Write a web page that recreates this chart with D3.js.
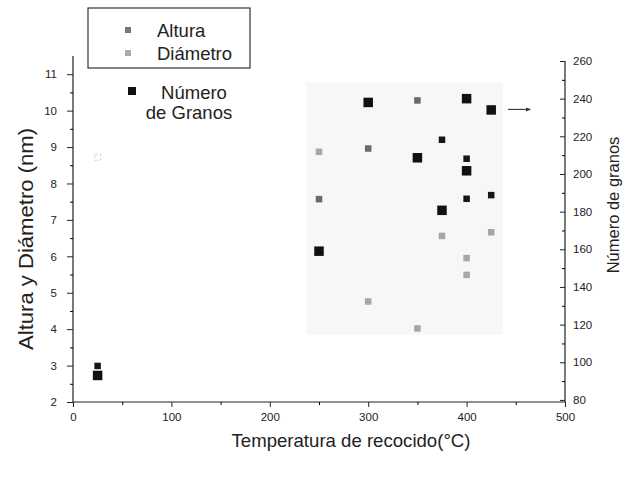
<!DOCTYPE html>
<html>
<head>
<meta charset="utf-8">
<script src="https://cdn.jsdelivr.net/npm/d3@7"></script>
<style>
  html, body { margin: 0; padding: 0; background: #fff; }
  svg { display: block; font-family: "Liberation Sans", Arial, sans-serif; }
</style>
</head>
<body>
<svg id="chart" width="624" height="477"></svg>
<script>
// Temperatura de recocido (°C) y valores medidos por serie
const tempAlturaA = [250, 300, 350];
const alturaA = [7.57, 8.96, 10.28];
const tempAlturaB = [25, 375, 400, 400, 425];
const alturaB = [2.99, 9.2, 8.68, 7.58, 7.68];
const tempDiametro = [250, 300, 350, 375, 400, 400, 425];
const diametro = [8.87, 4.76, 4.02, 6.56, 5.95, 5.49, 6.66];
const tempDiametroTenue = [25];
const diametroTenue = [8.72];
const tempGranos = [25, 250, 300, 350, 375, 400, 400, 425];
const granos = [93, 159, 238, 208.6, 180.7, 240, 201.7, 234];

// Ticks
const xTicks = [0, 100, 200, 300, 400, 500];
const yLeftTicks = [2, 3, 4, 5, 6, 7, 8, 9, 10, 11];
const yRightTicks = [80, 100, 120, 140, 160, 180, 200, 220, 240, 260];

const svg = d3.select("#chart");

const x = d3.scaleLinear().domain([0, 500]).range([73, 565]);
const yL = d3.scaleLinear().domain([2, 11.5]).range([402, 56]);
const yR = d3.scaleLinear().domain([78.9, 260]).range([402, 61]);

// light backdrop behind the high-temperature group
svg.append("rect")
  .attr("x", x(237)).attr("y", yL(10.78))
  .attr("width", x(437) - x(237)).attr("height", yL(3.85) - yL(10.78))
  .attr("fill", "#f7f7f7");

// bottom axis
const gx = svg.append("g").attr("transform", "translate(0,402)")
  .call(d3.axisBottom(x).tickValues(xTicks).tickSize(5).tickPadding(6).tickFormat(d3.format("d")));
svg.append("g").attr("transform", "translate(0,402)")
  .call(d3.axisBottom(x).tickValues(d3.range(50, 500, 100)).tickSize(3).tickFormat(""))
  .call(g => g.select(".domain").remove());

// left axis
const gl = svg.append("g").attr("transform", "translate(73,0)")
  .call(d3.axisLeft(yL).tickValues(yLeftTicks).tickSize(6).tickPadding(10).tickFormat(d3.format("d")));
svg.append("g").attr("transform", "translate(73,0)")
  .call(d3.axisLeft(yL).tickValues(d3.range(2.5, 11.5, 1)).tickSize(3).tickFormat(""))
  .call(g => g.select(".domain").remove());

// right axis, ticks pointing inward
const gr = svg.append("g").attr("transform", "translate(565,0)")
  .call(d3.axisRight(yR).tickValues(yRightTicks).tickSizeInner(-5).tickSizeOuter(0).tickPadding(8).tickFormat(d3.format("d")));
svg.append("g").attr("transform", "translate(565,0)")
  .call(d3.axisRight(yR).tickValues(d3.range(90, 260, 20)).tickSizeInner(-3).tickSizeOuter(0).tickFormat(""))
  .call(g => g.select(".domain").remove());

[gx, gl, gr].forEach(g => {
  g.select(".domain").attr("stroke", "#222").attr("stroke-width", 1.2);
  g.selectAll(".tick line").attr("stroke", "#222");
  g.selectAll(".tick text").attr("font-size", 11.5).attr("fill", "#222")
    .attr("font-family", "'Liberation Sans', Arial, sans-serif");
});
gx.select(".domain").attr("d", `M${x(0)},0H${x(500)}`);
gl.select(".domain").attr("d", `M0,${yL(11.5)}V${yL(2)}`);
gr.select(".domain").attr("d", `M0,${yR(260)}V${yR(78.9)}`);

// axis titles
svg.append("text")
  .attr("x", 351).attr("y", 447)
  .attr("text-anchor", "middle").attr("font-size", 18.6).attr("fill", "#222")
  .text("Temperatura de recocido(°C)");

svg.append("text")
  .attr("transform", "translate(33,239) rotate(-90)")
  .attr("text-anchor", "middle").attr("font-size", 19.5).attr("fill", "#222")
  .attr("textLength", 222).attr("lengthAdjust", "spacingAndGlyphs")
  .text("Altura y Diámetro (nm)");

svg.append("text")
  .attr("transform", "translate(619,205) rotate(-90)")
  .attr("text-anchor", "middle").attr("font-size", 16.5).attr("fill", "#222")
  .text("Número de granos");

// markers
function squares(xs, ys, yScale, size, fill) {
  svg.append("g").selectAll("rect")
    .data(xs.map((t, i) => [t, ys[i]]))
    .join("rect")
    .attr("x", d => x(d[0]) - size / 2)
    .attr("y", d => yScale(d[1]) - size / 2)
    .attr("width", size).attr("height", size)
    .attr("fill", fill);
}

svg.append("g").selectAll("rect")
  .data(tempDiametroTenue.map((t, i) => [t, diametroTenue[i]]))
  .join("rect")
  .attr("x", d => x(d[0]) - 3).attr("y", d => yL(d[1]) - 3)
  .attr("width", 6).attr("height", 6)
  .attr("fill", "none").attr("stroke", "#c8c8c8").attr("stroke-width", 0.8)
  .attr("stroke-dasharray", "3,2");

squares(tempDiametro, diametro, yL, 6.5, "#a6a6a6");
squares(tempAlturaA, alturaA, yL, 6.5, "#6a6a6a");
squares(tempAlturaB, alturaB, yL, 6.5, "#161616");
squares(tempGranos, granos, yR, 9.5, "#111");

// arrow towards the right axis
svg.append("line")
  .attr("x1", x(442)).attr("x2", x(464))
  .attr("y1", yR(234.3)).attr("y2", yR(234.3))
  .attr("stroke", "#333").attr("stroke-width", 1.1);
svg.append("path")
  .attr("d", `M${x(465.5)},${yR(234.3)}l-5,-2v4z`)
  .attr("fill", "#333");

// legend
svg.append("rect")
  .attr("x", 88).attr("y", 8).attr("width", 162).attr("height", 60)
  .attr("fill", "#fff").attr("stroke", "#333").attr("stroke-width", 1.2);

const legend = [
  { label: "Altura", fill: "#777", size: 6, y: 30 },
  { label: "Diámetro", fill: "#aaa", size: 6, y: 53 }
];
legend.forEach(l => {
  svg.append("rect").attr("x", 128 - l.size / 2).attr("y", l.y - l.size / 2)
    .attr("width", l.size).attr("height", l.size).attr("fill", l.fill);
  svg.append("text").attr("x", 157).attr("y", l.y + 6.5)
    .attr("font-size", 18.5).attr("fill", "#222").text(l.label);
});
svg.append("rect").attr("x", 132 - 4).attr("y", 91 - 4)
  .attr("width", 8).attr("height", 8).attr("fill", "#111");
svg.append("text").attr("x", 194).attr("y", 99).attr("text-anchor", "middle")
  .attr("font-size", 18.5).attr("fill", "#222").text("Número");
svg.append("text").attr("x", 189).attr("y", 119).attr("text-anchor", "middle")
  .attr("font-size", 18.5).attr("fill", "#222").text("de Granos");
</script>
</body>
</html>
